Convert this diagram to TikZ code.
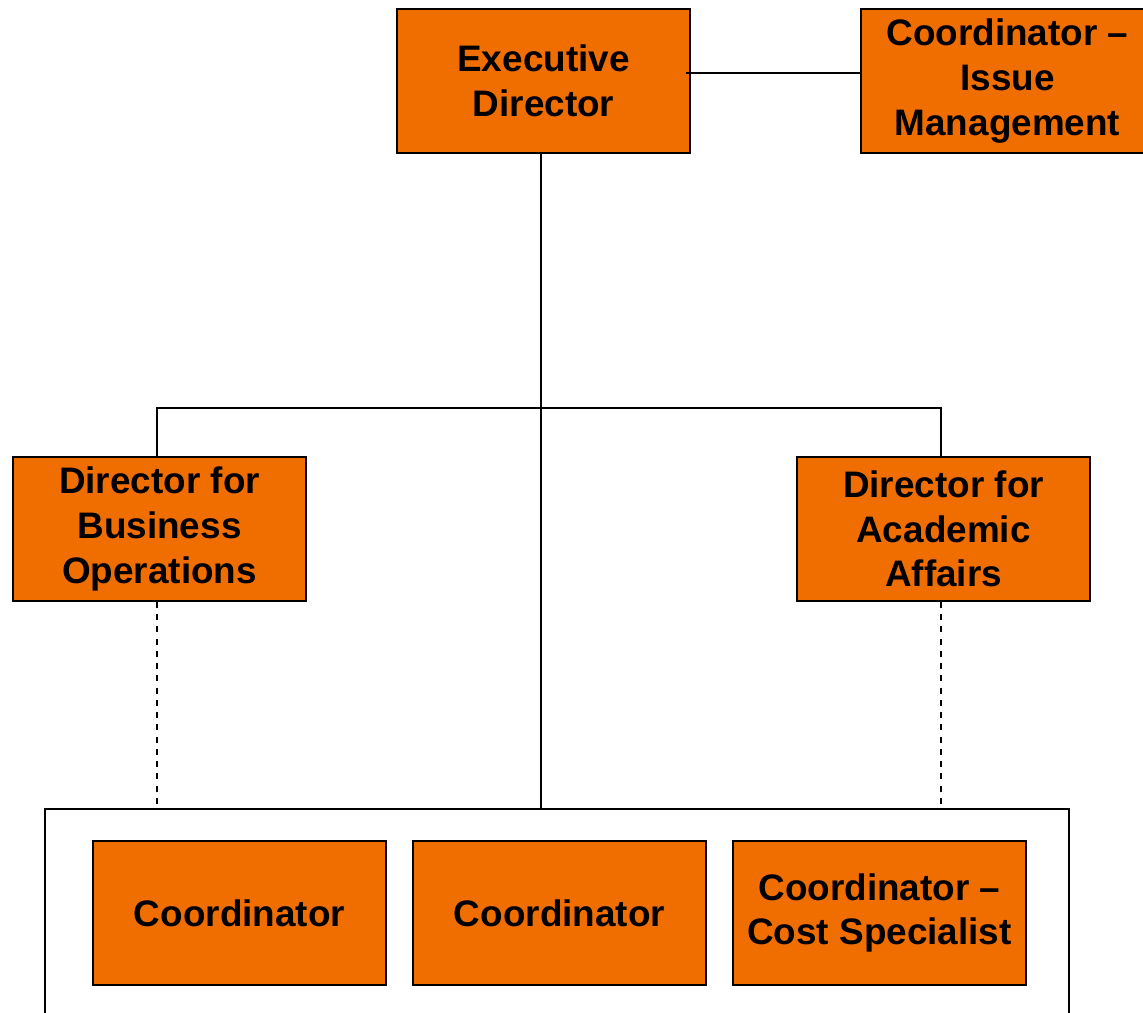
\documentclass[tikz,border=0pt]{standalone}
\usepackage{fontspec}
\setmainfont{Liberation Sans}
\usepackage{tikz}
\usetikzlibrary{calc}
\definecolor{boxorange}{RGB}{240,110,0}
\tikzset{
  post/.style={draw=black, line width=1.1pt, fill=boxorange, minimum width=5.86cm, minimum height=2.88cm,
    inner sep=0pt, align=center, font=\fontsize{21pt}{25.4pt}\selectfont\bfseries},
  link/.style={draw=black, line width=1.1pt},
  dotlink/.style={draw=black, line width=1.1pt, dash pattern=on 0.12cm off 0.125cm}
}
\begin{document}
\begin{tikzpicture}[x=0.02cm, y=-0.02cm]
        \useasboundingbox (0,0) rectangle (1143,1013);
        % group frame
        \node[draw=black, line width=1.1pt, minimum width=20.48cm, minimum height=5.2cm, inner sep=0pt] (team) at (557,939) {};
        % top row
        \node[post] (exec) at (543.5,81) {Executive\\Director};
        \node[post] (issue) at (1007.5,81) {Coordinator --\\Issue\\Management};
        % directors
        \node[post] (busops) at (159.5,529) {Director for\\Business\\Operations};
        \node[post] (acad) at (943.5,529) {Director for\\Academic\\Affairs};
        % coordinators
        \node[post] (coordA) at (239.5,913) {Coordinator};
        \node[post] (coordB) at (559.5,913) {Coordinator};
        \node[post] (cost) at (879.5,913) {Coordinator --\\Cost Specialist};
        % lines
        \draw[link] ($(exec.east)+(-5,-8)$) -- ($(issue.west)+(0,-8)$);
        \draw[link] ($(exec.south)+(-2.5,0)$) -- ($(exec.south |- team.north)+(-2.5,0)$);
        \draw[link] ($(busops.north)+(-2.5,0)$) -- ++(0,-48) -| ($(acad.north)+(-2.5,0)$);
        \draw[dotlink] ($(busops.south)+(-2.5,0)$) -- ($(busops.south |- team.north)+(-2.5,0)$);
        \draw[dotlink] ($(acad.south)+(-2.5,0)$) -- ($(acad.south |- team.north)+(-2.5,0)$);
\end{tikzpicture}
\end{document}
